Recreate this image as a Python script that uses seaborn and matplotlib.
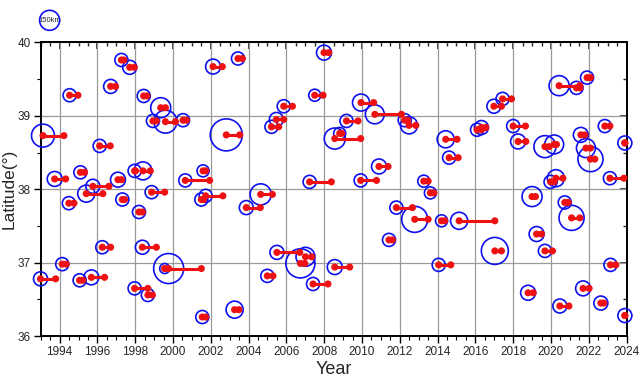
import numpy as np
import pandas as pd
import seaborn as sns
import matplotlib
matplotlib.use("Agg")
import matplotlib.pyplot as plt
from matplotlib.ticker import MultipleLocator

### EVENT DATA (start year, end year, latitude, circle size in km)
year_start = [1993.12, 1993.74, 1994.53, 1996.70, 1997.27, 1997.71, 1998.45, 1999.35, 1998.94, 1999.60,
              2000.53, 2002.12, 2002.82, 1996.12, 1995.10, 1995.76, 1995.41, 1994.49, 1997.09, 1997.32,
              1998.20, 1997.97, 1998.41, 1998.87, 2000.65, 2001.50, 2001.73, 1996.26, 1998.38, 1994.14,
              1992.99, 1995.06, 1995.68, 1999.56, 1999.77, 1997.97, 1998.67, 2001.55, 2003.26, 2003.44,
              2007.99, 2007.50, 2005.86, 2005.47, 2005.21, 2009.95, 2010.68, 2009.18, 2008.82, 2008.56,
              2010.90, 2009.93, 2007.23, 2001.59, 2004.64, 2003.88, 2005.50, 2006.74, 2007.01, 2008.56,
              2004.99, 2007.41, 2012.26, 2012.49, 2020.43, 2021.35, 2021.91, 2016.98, 2017.44, 2014.43,
              2014.61, 2016.09, 2016.32, 2018.00, 2018.26, 2019.68, 2020.17, 2021.58, 2021.85, 2022.09,
              2022.85, 2023.91, 2023.12, 2013.27, 2019.98, 2020.26, 2013.62, 2011.82, 2012.79, 2014.21,
              2015.14, 2017.03, 2014.06, 2019.00, 2020.73, 2021.09, 2019.24, 2019.68, 2023.15, 2018.79,
              2021.70, 2020.47, 2022.64, 2023.91, 2011.43]
year_end = [1994.23, 1994.32, 1994.97, 1996.96, 1997.40, 1997.95, 1998.62, 1999.60, 1999.12, 2000.13,
            2000.71, 2002.61, 2003.53, 1996.68, 1995.32, 1996.61, 1996.29, 1994.76, 1997.28, 1997.44,
            1998.38, 1998.02, 1998.80, 1999.56, 2001.94, 2001.62, 2002.64, 1996.70, 1999.12, 1994.35,
            1993.79, 1995.23, 1996.38, 1999.56, 2001.50, 1998.67, 1998.91, 2001.73, 2003.49, 2003.67,
            2008.24, 2007.94, 2006.32, 2005.86, 2005.59, 2010.62, 2012.09, 2009.79, 2008.93, 2009.93,
            2011.38, 2010.77, 2008.38, 2001.73, 2005.26, 2004.62, 2006.71, 2006.97, 2007.34, 2009.35,
            2005.29, 2008.20, 2012.42, 2012.85, 2021.53, 2021.53, 2022.09, 2017.38, 2017.91, 2015.03,
            2015.09, 2016.32, 2016.55, 2018.65, 2018.67, 2019.90, 2020.29, 2021.79, 2022.09, 2022.32,
            2023.12, 2023.91, 2023.86, 2013.50, 2020.15, 2020.63, 2013.80, 2012.67, 2013.50, 2014.38,
            2017.03, 2017.38, 2014.70, 2019.18, 2020.91, 2021.53, 2019.50, 2020.08, 2023.43, 2019.06,
            2022.02, 2020.95, 2022.80, 2023.91, 2011.61]
latitude = [38.73, 38.14, 39.28, 39.40, 39.76, 39.66, 39.27, 39.11, 38.93, 38.92,
            38.94, 39.67, 38.74, 38.59, 38.23, 38.04, 37.94, 37.81, 38.13, 37.86,
            37.69, 38.25, 38.25, 37.96, 38.12, 37.86, 37.91, 37.21, 37.21, 36.98,
            36.78, 36.76, 36.80, 36.92, 36.92, 36.65, 36.56, 36.26, 36.36, 39.78,
            39.86, 39.28, 39.13, 38.95, 38.85, 39.18, 39.02, 38.93, 38.76, 38.69,
            38.31, 38.12, 38.10, 38.25, 37.93, 37.75, 37.14, 36.99, 37.08, 36.94,
            36.82, 36.71, 38.94, 38.87, 39.41, 39.38, 39.52, 39.13, 39.23, 38.68,
            38.43, 38.81, 38.84, 38.86, 38.65, 38.58, 38.61, 38.74, 38.56, 38.41,
            38.86, 38.63, 38.15, 38.11, 38.10, 38.15, 37.95, 37.75, 37.59, 37.57,
            37.57, 37.16, 36.97, 37.90, 37.82, 37.61, 37.39, 37.16, 36.97, 36.59,
            36.65, 36.41, 36.45, 36.28, 37.31]
size_km = [172, 112, 98, 105, 98, 105, 98, 150, 98, 172,
           98, 112, 240, 98, 98, 105, 128, 98, 112, 98,
           98, 98, 135, 98, 98, 98, 98, 98, 105, 98,
           105, 98, 112, 75, 225, 98, 98, 98, 128, 98,
           112, 90, 98, 105, 98, 128, 142, 98, 90, 158,
           112, 98, 98, 90, 158, 105, 105, 218, 142, 112,
           98, 98, 98, 128, 150, 98, 98, 105, 98, 128,
           98, 98, 105, 98, 112, 165, 142, 112, 142, 188,
           98, 105, 98, 90, 98, 128, 90, 98, 195, 90,
           128, 202, 98, 150, 98, 188, 112, 98, 98, 112,
           112, 105, 105, 105, 98]

legend_km = 150
legend_year, legend_lat = 1993.47, 40.30

### SIZE SCALE: 150 km -> 20 px across
dpi = 100
px_per_km = 20 / 150


def area(km):
    return (km * px_per_km * 72 / dpi) ** 2


events = pd.DataFrame({"start": year_start, "end": year_end, "lat": latitude, "km": size_km})
events["s"] = area(events["km"])

segs = pd.concat([
    pd.DataFrame({"event": events.index, "year": events["start"], "lat": events["lat"]}),
    pd.DataFrame({"event": events.index, "year": events["end"], "lat": events["lat"]}),
], ignore_index=True)

sns.set_theme(style="white")
plt.rcParams["font.family"] = ["Liberation Sans Narrow", "Liberation Sans", "DejaVu Sans"]

fig, ax = plt.subplots(figsize=(6.4, 3.85), dpi=dpi)
fig.subplots_adjust(left=0.0636, right=0.979, top=0.890, bottom=0.127)

# blue circles
sns.scatterplot(data=events, x="start", y="lat", size="s",
                sizes={v: v for v in events["s"].unique()},
                facecolor="none", edgecolor="#1010ee", linewidth=1.2,
                legend=False, ax=ax, zorder=3, clip_on=False)

# red lines
sns.lineplot(data=segs, x="year", y="lat", units="event", estimator=None,
             color="#ee1111", linewidth=2.2, ax=ax, zorder=4, legend=False)

# red dots at both ends
sns.scatterplot(data=segs, x="year", y="lat", color="#ee1111", s=26,
                edgecolor="none", ax=ax, zorder=5, legend=False, clip_on=False)

# scale circle
ax.scatter([legend_year], [legend_lat], s=area(legend_km), facecolor="none",
           edgecolor="#1010ee", linewidth=1.2, clip_on=False, zorder=5)
ax.text(legend_year, legend_lat, "150km", fontsize=5.5, ha="center", va="center",
        clip_on=False)

ax.set_xlim(1993, 2024)
ax.set_ylim(36, 40)
ax.xaxis.set_major_locator(MultipleLocator(2))
ax.xaxis.set_minor_locator(MultipleLocator(0.5))
ax.yaxis.set_major_locator(MultipleLocator(1))
ax.yaxis.set_minor_locator(MultipleLocator(0.5))
ax.set_xticks(range(1994, 2025, 2))

ax.grid(True, which="major", color="#9a9a9a", linewidth=0.9)
ax.tick_params(which="both", bottom=True, left=True, top=False, right=False,
               direction="out", color="black", labelsize=8.5, pad=2)
ax.tick_params(which="major", length=5, width=1)
ax.tick_params(which="minor", length=3, width=0.8)

sec_top = ax.secondary_xaxis("top")
sec_top.xaxis.set_major_locator(MultipleLocator(2))
sec_top.xaxis.set_minor_locator(MultipleLocator(0.5))
sec_top.tick_params(which="major", direction="in", length=5, labeltop=False)
sec_top.tick_params(which="minor", direction="in", length=3, labeltop=False)
sec_right = ax.secondary_yaxis("right")
sec_right.yaxis.set_major_locator(MultipleLocator(1))
sec_right.yaxis.set_minor_locator(MultipleLocator(0.5))
sec_right.tick_params(which="major", direction="in", length=5, labelright=False)
sec_right.tick_params(which="minor", direction="in", length=3, labelright=False)

for sp in ax.spines.values():
    sp.set_color("black")
    sp.set_linewidth(1.4)

ax.set_xlabel("Year", fontsize=13, labelpad=2)
ax.set_ylabel("Latitude(°)", fontsize=12.5, labelpad=1)

fig.savefig("out.png", dpi=dpi)
